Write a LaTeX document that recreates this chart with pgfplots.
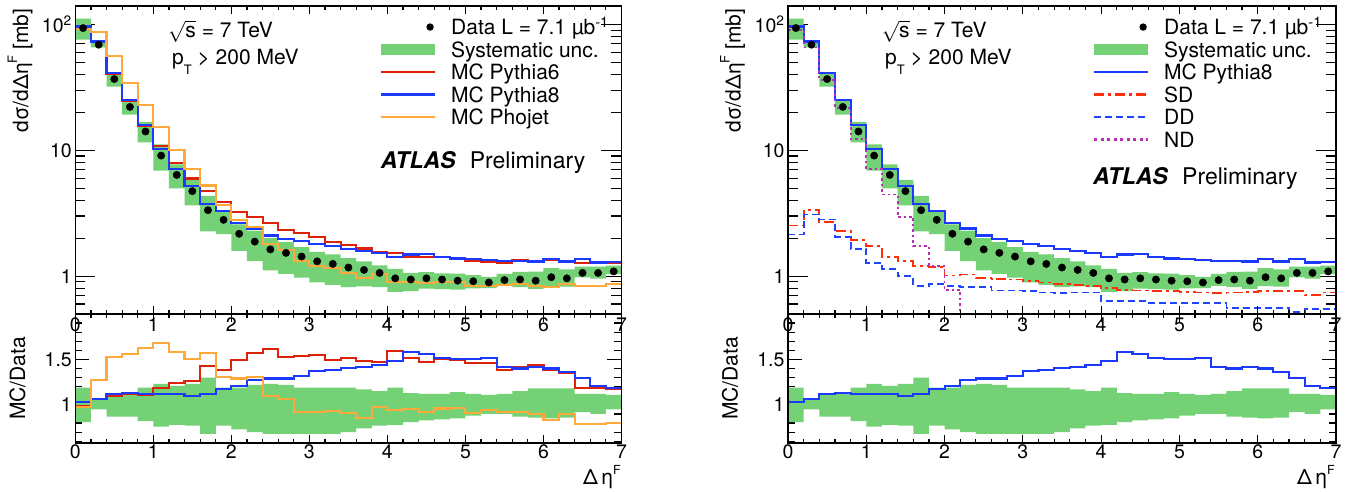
\documentclass[border=0pt]{standalone}
\usepackage{fontspec}
\setmainfont{TeX Gyre Heros}
\usepackage{pgfplots}
\pgfplotsset{compat=1.18}
\usepackage{pgfplotstable}
\usepgfplotslibrary{fillbetween}

\definecolor{bandgreen}{RGB}{117,209,117}
\definecolor{p6red}{RGB}{221,34,10}
\definecolor{p8blue}{RGB}{28,58,255}
\definecolor{phor}{RGB}{255,168,60}
\definecolor{sdred}{RGB}{255,45,10}
\definecolor{ddblue}{RGB}{30,70,255}
\definecolor{ndmag}{RGB}{185,45,185}

\newcommand{\lfont}{\fontsize{21}{22}\selectfont}
\newcommand{\tfont}{\fontsize{19.5}{20}\selectfont}
\newcommand{\afont}{\fontsize{23}{24}\selectfont}

% xlo = bin low edge; data; band lo/hi (relative); MC/Data ratios; SD, DD (mb)
\pgfplotstableread{
xlo data lo hi p6 p8 ph sd dd
0.0 93.5 0.81 1.19 0.99 1.03 0.98 2.52 2.14
0.2 69.0 0.95 1.07 1.06 1.06 1.27 3.34 3.09
0.4 36.8 0.87 1.13 1.10 1.12 1.53 2.70 2.82
0.6 22.1 0.87 1.14 1.12 1.13 1.56 2.28 2.05
0.8 14.1 0.82 1.19 1.11 1.12 1.63 1.93 1.65
1.0 9.07 0.76 1.23 1.19 1.12 1.68 1.73 1.28
1.2 6.37 0.78 1.21 1.24 1.12 1.58 1.42 1.14
1.4 4.73 0.77 1.23 1.26 1.10 1.50 1.31 1.00
1.6 3.34 0.68 1.30 1.43 1.12 1.57 1.20 0.84
1.8 2.80 0.77 1.19 1.38 1.17 1.31 1.18 0.86
2.0 2.17 0.73 1.19 1.49 1.21 1.29 1.01 0.84
2.2 1.88 0.70 1.22 1.57 1.27 1.31 1.03 0.82
2.4 1.63 0.68 1.23 1.61 1.29 1.10 0.97 0.82
2.6 1.53 0.68 1.22 1.53 1.29 1.06 0.95 0.77
2.8 1.43 0.68 1.19 1.54 1.32 0.92 0.94 0.77
3.0 1.31 0.68 1.19 1.55 1.37 0.92 0.91 0.76
3.2 1.25 0.68 1.19 1.49 1.38 0.93 0.89 0.74
3.4 1.17 0.70 1.19 1.52 1.41 0.91 0.86 0.73
3.6 1.12 0.74 1.17 1.48 1.42 0.86 0.85 0.74
3.8 1.06 0.77 1.15 1.47 1.44 0.98 0.83 0.74
4.0 0.96 0.78 1.19 1.59 1.48 0.94 0.80 0.63
4.2 0.94 0.81 1.13 1.52 1.58 0.95 0.78 0.63
4.4 0.96 0.83 1.12 1.47 1.56 0.92 0.77 0.63
4.6 0.94 0.84 1.12 1.51 1.52 0.96 0.76 0.61
4.8 0.92 0.85 1.14 1.49 1.50 0.97 0.76 0.61
5.0 0.91 0.88 1.12 1.46 1.50 0.91 0.75 0.61
5.2 0.89 0.90 1.11 1.46 1.52 0.94 0.74 0.61
5.4 0.93 0.90 1.12 1.38 1.42 0.92 0.73 0.61
5.6 0.94 0.87 1.15 1.42 1.40 0.92 0.74 0.56
5.8 0.92 0.86 1.18 1.44 1.42 0.90 0.75 0.56
6.0 0.98 0.85 1.18 1.38 1.40 0.83 0.76 0.56
6.2 0.96 0.86 1.18 1.35 1.36 0.90 0.76 0.56
6.4 1.06 0.92 1.12 1.19 1.30 0.79 0.76 0.52
6.6 1.06 0.90 1.12 1.19 1.21 0.79 0.71 0.55
6.8 1.09 0.95 1.11 1.17 1.19 0.80 0.74 0.55
7.0 1.09 0.95 1.11 1.17 1.19 0.80 0.74 0.55
}\tbl

\pgfplotstableread{
xlo nd
0.0 90
0.2 65.6
0.4 36.4
0.6 21.7
0.8 12.3
1.0 7.1
1.2 4.45
1.4 2.96
1.6 1.73
1.8 1.20
2.0 0.78
2.2 0.05
}\ndtbl

\pgfplotsset{
  myBase/.style={scale only axis, anchor=south west, xmin=0, xmax=7,
    axis line style={line width=1.4pt},
    every tick/.style={black, line width=1.2pt},
    tick label style={font=\tfont},
    /pgf/number format/assume math mode=true},
  myMain/.style={myBase, ymin=0.5, ymax=140, height=308pt,
    xtick=\empty, ytick={1,10,100}, yticklabels={1,10,10\textsuperscript{2}},
    minor ytick={0.6,0.7,0.8,0.9,2,3,4,5,6,7,8,9,20,30,40,50,60,70,80,90},
    major tick length=20pt, minor tick length=10pt},
  myRatio/.style={myBase, ymin=0.58, ymax=2.0, height=129pt,
    xtick=\empty, ytick={1,1.5}, yticklabels={1,1.5},
    minor ytick={0.6,0.7,0.8,0.9,1.1,1.2,1.3,1.4,1.6,1.7,1.8,1.9},
    major tick length=14pt, minor tick length=7pt},
  myXT/.style={myBase, ymin=0, ymax=1, ytick=\empty,
    xtick={0,1,2,3,4,5,6,7}, minor x tick num=4,
    major tick length=8pt, minor tick length=4pt},
  myMC/.style={const plot mark left, line width=2.1pt, forget plot},
  myDat/.style={only marks, mark=*, mark size=3.7pt, black, forget plot},
  myLeg/.style={legend style={at={(#1,0.956)}, anchor=north west, draw=none, fill=none,
    inner sep=0pt, outer sep=0pt, font=\lfont, row sep=7.5pt, column sep=15pt,
    nodes={inner sep=0pt, text height=15pt, text depth=0pt}},
    legend cell align=left},
}

\begin{document}
\begin{tikzpicture}

%================ LEFT MAIN
\begin{axis}[ymode=log, myMain, at={(75.3pt,177pt)}, width=546.2pt, myLeg=0.5578]
\addlegendimage{legend image code/.code={\path[draw=none] (0pt,0pt) -- (54pt,0pt); \fill[black, draw=none] (49pt,0pt) circle (3.7pt);}}
\addlegendimage{legend image code/.code={\fill[bandgreen, draw=none] (0pt,-5.5pt) rectangle (54pt,5.5pt);}}
\addlegendimage{legend image code/.code={\draw[p6red, line width=2.2pt] (0pt,0pt) -- (54pt,0pt);}}
\addlegendimage{legend image code/.code={\draw[p8blue, line width=2.2pt] (0pt,0pt) -- (54pt,0pt);}}
\addlegendimage{legend image code/.code={\draw[phor, line width=2.2pt] (0pt,0pt) -- (54pt,0pt);}}
\legend{Data L = 7.1 µb\textsuperscript{-1},Systematic unc.,MC Pythia6,MC Pythia8,MC Phojet}
\addplot[name path=buA, draw=none, const plot mark left, forget plot] table[x=xlo, y expr=\thisrow{data}*\thisrow{hi}] {\tbl};
\addplot[name path=blA, draw=none, const plot mark left, forget plot] table[x=xlo, y expr=\thisrow{data}*\thisrow{lo}] {\tbl};
\addplot[bandgreen, forget plot] fill between[of=buA and blA];
\addplot[myMC, p6red] table[x=xlo, y expr=\thisrow{data}*\thisrow{p6}] {\tbl};
\addplot[myMC, p8blue] table[x=xlo, y expr=\thisrow{data}*\thisrow{p8}] {\tbl};
\addplot[myMC, phor] table[x=xlo, y expr=\thisrow{data}*\thisrow{ph}] {\tbl};
\addplot[myDat, skip coords between index={35}{36}] table[x expr=\thisrow{xlo}+0.1, y=data] {\tbl};
\end{axis}
\begin{axis}[myXT, at={(75.3pt,177pt)}, width=546.2pt, height=308pt, xticklabel={}]
\end{axis}

%================ LEFT RATIO
\begin{axis}[myRatio, at={(75.3pt,48pt)}, width=546.2pt]
\addplot[name path=buB, draw=none, const plot mark left, forget plot] table[x=xlo, y=hi] {\tbl};
\addplot[name path=blB, draw=none, const plot mark left, forget plot] table[x=xlo, y=lo] {\tbl};
\addplot[bandgreen, forget plot] fill between[of=buB and blB];
\addplot[myMC, p6red] table[x=xlo, y=p6] {\tbl};
\addplot[myMC, p8blue] table[x=xlo, y=p8] {\tbl};
\addplot[myMC, phor] table[x=xlo, y=ph] {\tbl};
\end{axis}
\begin{axis}[myXT, at={(75.3pt,48pt)}, width=546.2pt, height=129pt,
  xticklabels={0,1,2,3,4,5,6,7}, xticklabel style={yshift=2pt}]
\end{axis}

%================ RIGHT MAIN
\begin{axis}[ymode=log, myMain, at={(788pt,177pt)}, width=548pt, myLeg=0.5566]
\addlegendimage{legend image code/.code={\path[draw=none] (0pt,0pt) -- (54pt,0pt); \fill[black, draw=none] (49pt,0pt) circle (3.7pt);}}
\addlegendimage{legend image code/.code={\fill[bandgreen, draw=none] (0pt,-5.5pt) rectangle (54pt,5.5pt);}}
\addlegendimage{legend image code/.code={\draw[p8blue, line width=2.2pt] (0pt,0pt) -- (54pt,0pt);}}
\addlegendimage{legend image code/.code={\draw[sdred, line width=2.2pt, dash pattern=on 10pt off 4pt on 3pt off 4pt] (0pt,0pt) -- (54pt,0pt);}}
\addlegendimage{legend image code/.code={\draw[ddblue, line width=2.2pt, dash pattern=on 7pt off 4pt] (0pt,0pt) -- (54pt,0pt);}}
\addlegendimage{legend image code/.code={\draw[ndmag, line width=2.2pt, dash pattern=on 3pt off 3.5pt] (0pt,0pt) -- (54pt,0pt);}}
\legend{Data L = 7.1 µb\textsuperscript{-1},Systematic unc.,MC Pythia8,SD,DD,ND}
\addplot[name path=buC, draw=none, const plot mark left, forget plot] table[x=xlo, y expr=\thisrow{data}*\thisrow{hi}] {\tbl};
\addplot[name path=blC, draw=none, const plot mark left, forget plot] table[x=xlo, y expr=\thisrow{data}*\thisrow{lo}] {\tbl};
\addplot[bandgreen, forget plot] fill between[of=buC and blC];
\addplot[myMC, p8blue] table[x=xlo, y expr=\thisrow{data}*\thisrow{p8}] {\tbl};
\addplot[myMC, sdred, line width=1.8pt, dash pattern=on 10pt off 4pt on 3pt off 4pt] table[x=xlo, y=sd] {\tbl};
\addplot[myMC, ddblue, line width=1.8pt, dash pattern=on 7pt off 4pt] table[x=xlo, y=dd] {\tbl};
\addplot[myMC, ndmag, line width=1.8pt, dash pattern=on 2.5pt off 3pt] table[x=xlo, y=nd] {\ndtbl};
\addplot[myDat, skip coords between index={35}{36}] table[x expr=\thisrow{xlo}+0.1, y=data] {\tbl};
\end{axis}
\begin{axis}[myXT, at={(788pt,177pt)}, width=548pt, height=308pt, xticklabel={}]
\end{axis}

%================ RIGHT RATIO
\begin{axis}[myRatio, at={(788pt,48pt)}, width=548pt]
\addplot[name path=buD, draw=none, const plot mark left, forget plot] table[x=xlo, y=hi] {\tbl};
\addplot[name path=blD, draw=none, const plot mark left, forget plot] table[x=xlo, y=lo] {\tbl};
\addplot[bandgreen, forget plot] fill between[of=buD and blD];
\addplot[myMC, p8blue] table[x=xlo, y=p8] {\tbl};
\end{axis}
\begin{axis}[myXT, at={(788pt,48pt)}, width=548pt, height=129pt,
  xticklabels={0,1,2,3,4,5,6,7}, xticklabel style={yshift=2pt}]
\end{axis}

%================ TEXT
\node[font=\lfont, rotate=90, anchor=base east] at (28pt,486pt)
  {dσ/dΔη\raisebox{11pt}{\fontsize{13}{13}\selectfont F} [mb]};
\node[font=\lfont, rotate=90, anchor=base] at (25pt,112.5pt) {MC/Data};
\node[font=\lfont, rotate=90, anchor=base east] at (740.7pt,486pt)
  {dσ/dΔη\raisebox{11pt}{\fontsize{13}{13}\selectfont F} [mb]};
\node[font=\lfont, rotate=90, anchor=base] at (737.7pt,112.5pt) {MC/Data};

\node[font=\lfont, anchor=base east, inner sep=0pt] at (621pt,7pt)
  {Δ\,η\raisebox{10pt}{\fontsize{12.5}{12.5}\selectfont F}};
\node[font=\lfont, anchor=base east, inner sep=0pt] at (1335pt,7pt)
  {Δ\,η\raisebox{10pt}{\fontsize{12.5}{12.5}\selectfont F}};

\node[font=\lfont, anchor=base west, inner sep=0pt] at (168pt,453pt) {$\sqrt{\mbox{s}}$ = 7 TeV};
\node[font=\lfont, anchor=base west, inner sep=0pt] at (172pt,426pt)
  {p\raisebox{-10pt}{\fontsize{13}{13}\selectfont T} > 200 MeV};
\node[font=\lfont, anchor=base west, inner sep=0pt] at (881.7pt,453pt) {$\sqrt{\mbox{s}}$ = 7 TeV};
\node[font=\lfont, anchor=base west, inner sep=0pt] at (885pt,426pt)
  {p\raisebox{-10pt}{\fontsize{13}{13}\selectfont T} > 200 MeV};

\node[font=\afont, anchor=base west, inner sep=0pt] at (380.7pt,323pt)
  {\textbf{\textit{ATLAS}}\hspace{14pt}Preliminary};
\node[font=\afont, anchor=base west, inner sep=0pt] at (1093pt,306pt)
  {\textbf{\textit{ATLAS}}\hspace{14pt}Preliminary};

\pgfresetboundingbox
\path[use as bounding box] (0,0) rectangle (1353pt,491pt);
\end{tikzpicture}
\end{document}
